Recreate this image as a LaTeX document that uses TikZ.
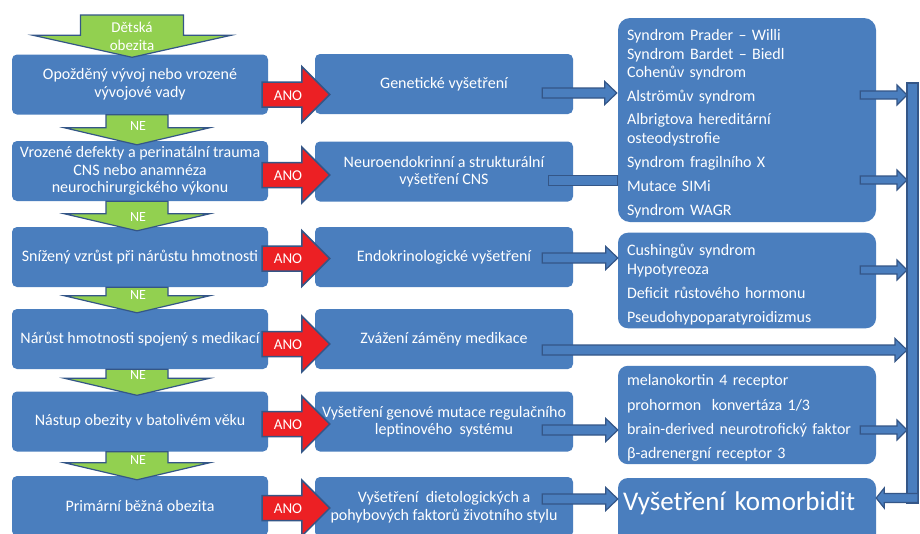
\documentclass[tikz,border=0pt]{standalone}
\usepackage{fontspec}
\setmainfont{Carlito}
\usetikzlibrary{calc}

\definecolor{boxblue}{RGB}{74,126,190}
\definecolor{edgeblue}{RGB}{52,86,135}
\definecolor{negreen}{RGB}{146,208,80}
\definecolor{anored}{RGB}{236,32,36}

\tikzset{
  lbox/.style={rectangle, rounded corners=5pt, fill=boxblue, text=white, minimum width=256pt, minimum height=60pt, align=center, inner sep=2pt, font=\fontsize{16}{17.5}\selectfont},
  mbox/.style={lbox, minimum width=258pt},
  rbox/.style={rectangle, rounded corners=10pt, fill=boxblue, text=white, text width=240pt, inner xsep=9pt, inner ysep=3pt, align=left, font=\fontsize{16}{18.5}\selectfont},
  rblk/.style n args={3}{to path={let \p1=(\tikztostart), \p2=(\tikztotarget) in
      (\x1,\y1+#1) -- (\x2-#3,\y1+#1) -- (\x2-#3,\y1+#2) -- (\x2,\y1)
      -- (\x2-#3,\y1-#2) -- (\x2-#3,\y1-#1) -- (\x1,\y1-#1) -- cycle}},
  lblk/.style n args={3}{to path={let \p1=(\tikztostart), \p2=(\tikztotarget) in
      (\x1,\y1+#1) -- (\x2+#3,\y1+#1) -- (\x2+#3,\y1+#2) -- (\x2,\y1)
      -- (\x2+#3,\y1-#2) -- (\x2+#3,\y1-#1) -- (\x1,\y1-#1) -- cycle}},
  dblk/.style n args={3}{to path={let \p1=(\tikztostart), \p2=(\tikztotarget) in
      (\x1-#1,\y1) -- (\x1-#1,\y2+#3) -- (\x1-#2,\y2+#3) -- (\x1,\y2)
      -- (\x1+#2,\y2+#3) -- (\x1+#1,\y2+#3) -- (\x1+#1,\y1) -- cycle}},
  garrow/.style={fill=negreen, draw=edgeblue, line width=1.2pt},
  rarrow/.style={fill=anored, draw=edgeblue, line width=1.5pt, rblk={12.5pt}{28pt}{28pt}},
  barrow/.style={fill=boxblue, draw=edgeblue, line width=1.2pt},
  lbl/.style={text=white, align=center, font=\fontsize{15}{15.5}\selectfont},
}

\begin{document}
\begin{tikzpicture}[x=1pt,y=-1pt]
    \useasboundingbox (0,0) rectangle (920,533);
    \clip (0,0) rectangle (920,533);
    \fill[white] (0,0) rectangle (920,533);

    \node[lbox] (a1) at (140,84.5) {Opožděný vývoj nebo vrozené\\vývojové vady};
    \node[lbox] (a2) at (140,171) {Vrozené defekty a perinatální trauma\\CNS nebo anamnéza\\neurochirurgického výkonu};
    \node[lbox] (a3) at (140,257) {Snížený vzrůst při nárůstu hmotnosti};
    \node[lbox] (a4) at (140,339) {Nárůst hmotnosti spojený s medikací};
    \node[lbox] (a5) at (140,421.5) {Nástup obezity v batolivém věku};
    \node[lbox] (a6) at (140,506) {Primární běžná obezita};

    \node[mbox] (b1) at (444,84) {Genetické vyšetření};
    \node[mbox] (b2) at (444,171.5) {Neuroendokrinní a strukturální\\vyšetření CNS};
    \node[mbox] (b3) at (444,257) {Endokrinologické vyšetření};
    \node[mbox] (b4) at (444,339) {Zvážení záměny medikace};
    \node[mbox] (b5) at (444,421.5) {Vyšetření genové mutace regulačního\\leptinového\ \ systému};
    \node[mbox] (b6) at (444,507) {Vyšetření\ \ dietologických a\\pohybových faktorů životního stylu};

    \node[rbox, minimum height=204pt, rounded corners=12pt] (c1) at (747,120) {\rule{0pt}{18.2pt}Syndrom Prader – Willi\\Syndrom Bardet – Biedl\\Cohenův syndrom\\[5.5pt]Alströmův syndrom\\[4.5pt]Albrigtova hereditární\\osteodystrofie\\[5.5pt]Syndrom fragilního X\\[5.5pt]Mutace SIMi\\[5.5pt]Syndrom WAGR};
    \node[rbox, minimum height=95pt] (c2) at (747,280.5) {\rule{0pt}{20pt}Cushingův syndrom\\Hypotyreoza\\[6pt]Deficit růstového hormonu\\[5.5pt]Pseudohypoparatyroidizmus};
    \node[rbox, minimum height=90pt] (c3) at (747,415) {\rule{0pt}{17.2pt}melanokortin 4 receptor\\[6pt]prohormon\ \ konvertáza 1/3\\[5.5pt]brain-derived neurotrofický faktor\\[5.5pt]β-adrenergní receptor 3};
    \node[rbox, minimum height=67pt, inner xsep=5pt, text width=248pt, text height=24pt, text depth=27pt, font=\fontsize{27}{30}\selectfont] (c4) at (747,511.5) {Vyšetření komorbidit};

    \coordinate (top) at (132,15);
    \coordinate (bt) at (912.5,83);
    \coordinate (bb) at (912.5,498);

    %%%%%%%%%% NE
    \draw[garrow, dblk={51.5pt}{99pt}{22pt}] (top) to ([yshift=-3pt]a1.north);
    \draw[garrow, dblk={31pt}{72.5pt}{17pt}] ([xshift=-3pt]a1.south) to ([yshift=-4pt]a2.north);
    \draw[garrow, dblk={31pt}{72.5pt}{17pt}] ([xshift=-3pt]a2.south) to ([yshift=-4pt]a3.north);
    \draw[garrow, dblk={31pt}{72.5pt}{17pt}] ([xshift=-3pt]a3.south) to ([yshift=-4pt]a4.north);
    \draw[garrow, dblk={31pt}{72.5pt}{17pt}] ([xshift=-3pt]a4.south) to ([yshift=-4pt]a5.north);
    \draw[garrow, dblk={31pt}{72.5pt}{17pt}] ([xshift=-3pt]a5.south) to ([yshift=-4pt]a6.north);

    \node[lbl, font=\fontsize{15}{18}\selectfont] (g0) at (132,36) {Dětská\\obezita};
    \node[lbl, font=\fontsize{14}{15}\selectfont] (g1) at (138,126) {NE};
    \node[lbl, font=\fontsize{14}{15}\selectfont] (g2) at (138,217) {NE};
    \node[lbl, font=\fontsize{14}{15}\selectfont] (g3) at (138,295) {NE};
    \node[lbl, font=\fontsize{14}{15}\selectfont] (g4) at (138,375) {NE};
    \node[lbl, font=\fontsize{14}{15}\selectfont] (g5) at (138,460) {NE};

    %%%%%%%%%% ANO
    \draw[rarrow] ([shift={(-6pt,-10pt)}]a1.east) to ([xshift=15pt]b1.west);
    \draw[rarrow] ([shift={(-6pt,-4pt)}]a2.east) to ([xshift=15pt]b2.west);
    \draw[rarrow] ([shift={(-6pt,-1.5pt)}]a3.east) to ([xshift=15pt]b3.west);
    \draw[rarrow] ([shift={(-6pt,-5pt)}]a4.east) to ([xshift=15pt]b4.west);
    \draw[rarrow] ([shift={(-6pt,-2.5pt)}]a5.east) to ([xshift=15pt]b5.west);
    \draw[rarrow] ([shift={(-6pt,-2pt)}]a6.east) to ([xshift=15pt]b6.west);

    \node[lbl] (r1) at (288,96) {ANO};
    \node[lbl] (r2) at (288,176) {ANO};
    \node[lbl] (r3) at (288,259) {ANO};
    \node[lbl] (r4) at (288,345) {ANO};
    \node[lbl] (r5) at (288,425) {ANO};
    \node[lbl] (r6) at (288,509) {ANO};

    %%%%%%%%%% to the right
    \draw[barrow, rblk={5pt}{11.5pt}{12pt}] ([shift={(-31pt,-9pt)}]b1.east) to ([xshift=-1pt]c1.west);
    \draw[barrow, rblk={5pt}{5pt}{0pt}] ([shift={(-25pt,-9pt)}]b2.east) to (c1.west);
    \draw[barrow, rblk={5pt}{11.5pt}{12pt}] ([shift={(-31pt,-1pt)}]b3.east) to (c2.west);
    \draw[barrow, rblk={5pt}{11.5pt}{12pt}] ([shift={(-31pt,-11pt)}]b4.east) to ([xshift=-5.5pt]bt);
    \draw[barrow, rblk={5pt}{11.5pt}{12pt}] ([shift={(-31pt,-8.5pt)}]b5.east) to (c3.west);
    \draw[barrow, rblk={5pt}{11.5pt}{12pt}] ([shift={(-31pt,8pt)}]b6.east) to (c4.west);

    \draw[barrow, rblk={4pt}{10pt}{10pt}] ([shift={(-16pt,25pt)}]c1.east) to ([xshift=-5.5pt]bt);
    \draw[barrow, rblk={4pt}{10pt}{10pt}] ([shift={(-16pt,-60pt)}]c1.east) to ([xshift=-5.5pt]bt);
    \draw[barrow, rblk={4pt}{10pt}{10pt}] ([shift={(-16pt,10.5pt)}]c2.east) to ([xshift=-5.5pt]bt);
    \draw[barrow, rblk={4pt}{10pt}{10pt}] ([shift={(-16pt,-15pt)}]c3.east) to ([xshift=-5.5pt]bt);

    \draw[barrow, dblk={5.5pt}{5.5pt}{0pt}] (bt) to ([yshift=-5pt]bb);
    \draw[barrow, lblk={4.5pt}{10pt}{8pt}] ([xshift=5.5pt]bb) to (c4.east);

\end{tikzpicture}
\end{document}
